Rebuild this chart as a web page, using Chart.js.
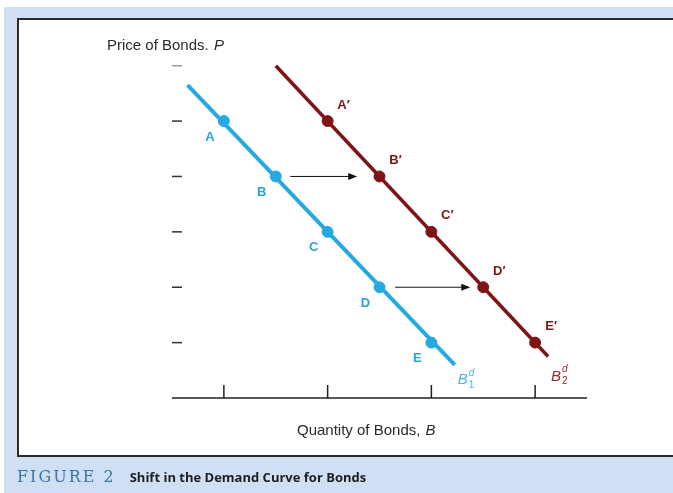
<!DOCTYPE html>
<html>
<head>
<meta charset="utf-8">
<script src="https://cdn.jsdelivr.net/npm/chart.js@4.4.1/dist/chart.umd.min.js"></script>
<style>
  html, body { margin: 0; padding: 0; }
  body { width: 673px; height: 493px; background: #fff; position: relative; overflow: hidden; font-family: "Liberation Sans", Arial, sans-serif; }
  #band { position: absolute; left: 4px; top: 7px; width: 680px; height: 490px; background: #cfe0f4; }
  #panel { position: absolute; left: 17px; top: 18px; width: 680px; height: 435px; background: #fff; border: 2px solid #2a2a2a; border-right: none; }
  #chart { position: absolute; left: 0; top: 0; }
  #caption { position: absolute; left: 17px; top: 467px; white-space: nowrap; }
  #caption .fig { font-family: "DejaVu Serif", "Liberation Serif", serif; color: #3b74a8; font-size: 16px; letter-spacing: 2px; }
  #caption .txt { font-family: "Open Sans", "Liberation Sans", sans-serif; font-weight: bold; font-size: 13px; color: #1e1e1e; margin-left: 14px; }
</style>
</head>
<body>
<div id="band"></div>
<div id="panel"></div>
<canvas id="chart" width="673" height="493"></canvas>
<div id="caption"><span class="fig">FIGURE 2</span><span class="txt">Shift in the Demand Curve for Bonds</span></div>
<script>
// demand curve B1 (blue) and B2 (red)
const pointsX1 = [1, 2, 3, 4, 5];
const pointsX2 = [3, 4, 5, 6, 7];
const pointsY = [5, 4, 3, 2, 1];
const labels1 = ['A', 'B', 'C', 'D', 'E'];
const labels2 = ['A\u2032', 'B\u2032', 'C\u2032', 'D\u2032', 'E\u2032'];
const curve1X = [0.3, 5.45];
const curve1Y = [5.65, 0.6];
const curve2X = [2, 7.25];
const curve2Y = [6, 0.75];
const arrowY = [4, 2];
const arrowFrom = [2.28, 4.3];
const arrowTo = [3.57, 5.75];
const yTicks = [1, 2, 3, 4, 5, 6];
const xTicks = [1, 3, 5, 7];

const blue = '#26a9e0';
const red = '#7e1416';

function pts(xs, ys) { return xs.map((x, i) => ({ x: x, y: ys[i] })); }

const decor = {
  id: 'decor',
  afterDatasetsDraw(chart) {
    const ctx = chart.ctx;
    const xs = chart.scales.x, ys = chart.scales.y;
    const y0 = ys.getPixelForValue(0);
    ctx.save();
    // x axis line + upward ticks
    ctx.strokeStyle = '#222';
    ctx.lineWidth = 1.5;
    ctx.beginPath();
    ctx.moveTo(xs.getPixelForValue(0), y0);
    ctx.lineTo(xs.getPixelForValue(8), y0);
    xTicks.forEach(t => {
      const px = xs.getPixelForValue(t);
      ctx.moveTo(px, y0);
      ctx.lineTo(px, y0 - 13);
    });
    ctx.stroke();
    // y dashes
    yTicks.forEach(t => {
      const py = ys.getPixelForValue(t);
      ctx.strokeStyle = t === 6 ? '#999' : '#333';
      ctx.beginPath();
      ctx.moveTo(xs.getPixelForValue(0), py);
      ctx.lineTo(xs.getPixelForValue(0) + 10, py);
      ctx.stroke();
    });
    // shift arrows
    ctx.strokeStyle = '#111';
    ctx.fillStyle = '#111';
    ctx.lineWidth = 1;
    arrowY.forEach((y, i) => {
      const py = ys.getPixelForValue(y);
      const a = xs.getPixelForValue(arrowFrom[i]);
      const b = xs.getPixelForValue(arrowTo[i]);
      ctx.beginPath();
      ctx.moveTo(a, py);
      ctx.lineTo(b - 6, py);
      ctx.stroke();
      ctx.beginPath();
      ctx.moveTo(b, py);
      ctx.lineTo(b - 9, py - 3.5);
      ctx.lineTo(b - 9, py + 3.5);
      ctx.closePath();
      ctx.fill();
    });
    // point labels
    ctx.font = 'bold 13px "Liberation Sans", Arial, sans-serif';
    ctx.textAlign = 'center';
    ctx.textBaseline = 'middle';
    ctx.fillStyle = '#2aa5d8';
    labels1.forEach((l, i) => {
      ctx.fillText(l, xs.getPixelForValue(pointsX1[i]) - 14, ys.getPixelForValue(pointsY[i]) + 16);
    });
    ctx.fillStyle = '#7a1719';
    labels2.forEach((l, i) => {
      ctx.fillText(l, xs.getPixelForValue(pointsX2[i]) + 16, ys.getPixelForValue(pointsY[i]) - 16);
    });
    // curve labels
    function curveLabel(x, y, dx, dy, sub, color) {
      const px = xs.getPixelForValue(x) + dx, py = ys.getPixelForValue(y) + dy;
      ctx.fillStyle = color;
      ctx.textAlign = 'left';
      ctx.font = 'italic 15px "Liberation Sans", Arial, sans-serif';
      ctx.fillText('B', px, py);
      ctx.font = 'italic 10px "Liberation Sans", Arial, sans-serif';
      ctx.fillText('d', px + 11, py - 7);
      ctx.font = '10px "Liberation Sans", Arial, sans-serif';
      ctx.fillText(sub, px + 11, py + 5);
    }
    curveLabel(curve1X[1], curve1Y[1], 3, 15, '1', '#45b6e2');
    curveLabel(curve2X[1], curve2Y[1], 3, 20, '2', '#8a2a2c');
    // axis titles
    ctx.fillStyle = '#2a2a2a';
    ctx.textAlign = 'left';
    ctx.font = '15px "Liberation Sans", Arial, sans-serif';
    const t1 = 'Price of Bonds. ';
    ctx.fillText(t1, 107, 46);
    const w1 = ctx.measureText(t1).width;
    ctx.font = 'italic 15px "Liberation Sans", Arial, sans-serif';
    ctx.fillText('P', 107 + w1 + 1, 46);
    ctx.font = '15px "Liberation Sans", Arial, sans-serif';
    const t2 = 'Quantity of Bonds, ';
    const w2 = ctx.measureText(t2).width;
    ctx.fillText(t2, 297, 431);
    ctx.font = 'italic 15px "Liberation Sans", Arial, sans-serif';
    ctx.fillText('B', 297 + w2 + 1, 431);
    ctx.restore();
  }
};

new Chart(document.getElementById('chart'), {
  type: 'scatter',
  data: {
    datasets: [
      { data: pts(curve1X, curve1Y), showLine: true, borderColor: blue, borderWidth: 4, pointRadius: 0 },
      { data: pts(curve2X, curve2Y), showLine: true, borderColor: red, borderWidth: 3.5, pointRadius: 0 },
      { data: pts(pointsX1, pointsY), showLine: false, backgroundColor: blue, borderColor: blue, pointRadius: 5.5 },
      { data: pts(pointsX2, pointsY), showLine: false, backgroundColor: red, borderColor: red, pointRadius: 5.5 }
    ]
  },
  options: {
    responsive: false,
    animation: false,
    layout: { padding: { left: 172, right: 86, top: 38, bottom: 95 } },
    plugins: { legend: { display: false }, tooltip: { enabled: false } },
    scales: {
      x: { type: 'linear', min: 0, max: 8, display: false },
      y: { type: 'linear', min: 0, max: 6.5, display: false }
    }
  },
  plugins: [decor]
});
</script>
</body>
</html>
